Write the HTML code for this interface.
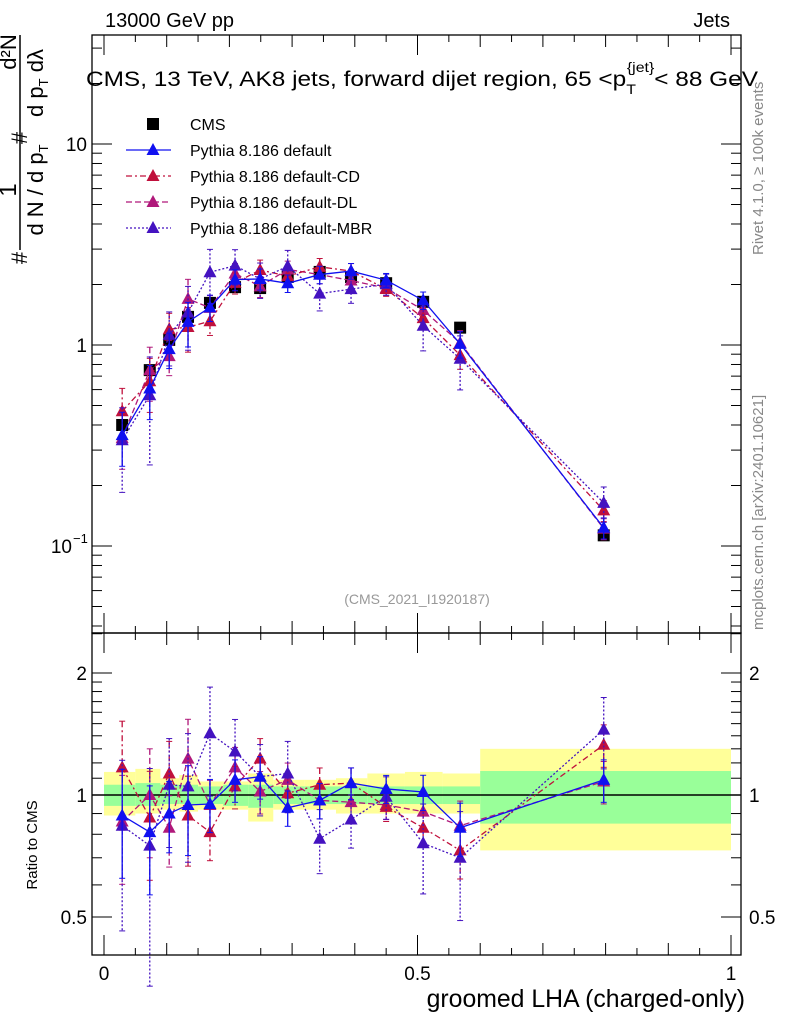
<!DOCTYPE html>
<html><head><meta charset="utf-8"><style>
body{margin:0;background:#fff;}
svg{display:block;font-family:"Liberation Sans",sans-serif;}
</style></head><body>
<svg id="c" width="786" height="1024" xmlns="http://www.w3.org/2000/svg">
<text x="105" y="27" font-size="20">13000 GeV pp</text>
<text x="730" y="27" font-size="20" text-anchor="end">Jets</text>
<text x="422" y="86" font-size="21.5" text-anchor="middle" textLength="672" lengthAdjust="spacingAndGlyphs">CMS, 13 TeV, AK8 jets, forward dijet region, 65 &lt;p<tspan font-size="14" dy="8">T</tspan><tspan font-size="14" dy="-22" dx="-8">{jet}</tspan><tspan dy="14">&lt; 88 GeV</tspan></text>
<text transform="translate(763,255) rotate(-90)" font-size="15" fill="#888">Rivet 4.1.0, ≥ 100k events</text>
<text transform="translate(763,630) rotate(-90)" font-size="15" fill="#888">mcplots.cern.ch [arXiv:2401.10621]</text>
<text x="417" y="604" font-size="14" fill="#999" text-anchor="middle">(CMS_2021_I1920187)</text>
<g font-size="22">
<line x1="20" y1="250" x2="20" y2="35" stroke="#000" stroke-width="1.5"/>
<text transform="translate(27,258) rotate(-90)" text-anchor="middle">#</text>
<text transform="translate(16,190) rotate(-90)" font-size="24" text-anchor="middle">1</text>
<text transform="translate(43,190) rotate(-90)" text-anchor="middle">d N / d p<tspan font-size="13" dy="5">T</tspan></text>
<text transform="translate(27,138) rotate(-90)" text-anchor="middle">#</text>
<text transform="translate(16,52) rotate(-90)" text-anchor="middle">d²N</text>
<text transform="translate(43,83) rotate(-90)" text-anchor="middle">d p<tspan font-size="13" dy="5">T</tspan><tspan dy="-5"> dλ</tspan></text>
</g>
<text transform="translate(37,845) rotate(-90)" font-size="15" text-anchor="middle">Ratio to CMS</text>
<text x="745" y="1007" font-size="24.8" text-anchor="end">groomed LHA (charged-only)</text>
<g id="bands"></g><g id="axes"></g><g id="marks"></g><g id="legend"></g>
</svg>
<script>
const xs=[0.029,0.073,0.104,0.134,0.169,0.209,0.249,0.293,0.344,0.394,0.45,0.509,0.568,0.797];
const cms=[0.40,0.75,1.06,1.38,1.62,1.94,1.92,2.18,2.31,2.18,2.03,1.64,1.22,0.113];
const rDefault=[0.89,0.81,0.90,0.945,0.95,1.09,1.11,0.93,0.97,1.07,1.035,1.017,0.83,1.09];
const rCD=[1.17,0.88,1.13,0.89,0.81,1.05,1.23,1.01,1.06,1.07,0.935,0.83,0.73,1.33];
const rDL=[0.86,1.0,0.83,1.23,0.945,1.17,1.02,1.09,0.97,0.96,0.945,0.91,0.84,1.08];
const rMBR=[0.84,0.75,1.06,1.05,1.42,1.28,1.11,1.13,0.78,0.87,0.99,0.76,0.70,1.45];
const errMC=[0.3,0.3,0.2,0.25,0.15,0.12,0.12,0.1,0.1,0.09,0.08,0.1,0.15,0.12];
const errMBR=[0.45,0.55,0.3,0.35,0.3,0.2,0.2,0.2,0.18,0.15,0.12,0.25,0.3,0.2];
const binEdges=[0,0.05,0.09,0.12,0.15,0.19,0.23,0.27,0.32,0.37,0.42,0.48,0.54,0.6,1.0];
const greenHi=[1.06,1.07,1.06,1.06,1.05,1.06,1.06,1.05,1.05,1.05,1.05,1.05,1.05,1.146];
const greenLo=[0.94,0.94,0.95,0.95,0.95,0.94,0.93,0.95,0.95,0.95,0.95,0.95,0.95,0.85];
const yelHi=[1.14,1.16,1.1,1.12,1.08,1.08,1.13,1.09,1.09,1.1,1.13,1.14,1.13,1.30];
const yelLo=[0.89,0.9,0.92,0.91,0.92,0.92,0.86,0.92,0.92,0.9,0.9,0.9,0.9,0.73];
const NS="http://www.w3.org/2000/svg";
const L=92,R=741,T=35,M=633,B=955;
const X=v=>104+v*627;
const Y=v=>345-201*Math.log10(v);
const YR=v=>795-122*Math.log2(v);
function el(p,t,a){const e=document.createElementNS(NS,t);for(const k in a)e.setAttribute(k,a[k]);document.getElementById(p).appendChild(e);return e;}
for(let i=0;i<greenHi.length;i++){
 const x1=X(binEdges[i]),x2=X(binEdges[i+1]);
 const y=el('bands','rect',{x:x1,y:YR(yelHi[i]),width:x2-x1,height:YR(yelLo[i])-YR(yelHi[i]),fill:'#ffff99'});
 
 
 const g=el('bands','rect',{x:x1,y:YR(greenHi[i]),width:x2-x1,height:YR(greenLo[i])-YR(greenHi[i]),fill:'#99ff99'});
 
 
}
el('bands','line',{x1:L,x2:R,y1:YR(1),y2:YR(1),stroke:'#000','stroke-width':1.5});
el('axes','rect',{x:L,y:T,width:R-L,height:M-T,fill:'none',stroke:'#000','stroke-width':1.3});
el('axes','rect',{x:L,y:M,width:R-L,height:B-M,fill:'none',stroke:'#000','stroke-width':1.3});
for(let d=-2;d<=1;d++)for(let m=1;m<10;m++){const v=m*Math.pow(10,d);const y=Y(v);if(y<T||y>M)continue;const len=m==1?20:10;
 el('axes','line',{x1:L,x2:L+len,y1:y,y2:y,stroke:'#000'});el('axes','line',{x1:R,x2:R-len,y1:y,y2:y,stroke:'#000'});}
[[10,'10'],[1,'1']].forEach(([v,t])=>{const e=el('axes','text',{x:L-5,y:Y(v)+7,'font-size':19,'text-anchor':'end'});e.textContent=t;});
{const e=el('axes','text',{x:L-20,y:Y(0.1)+7,'font-size':19,'text-anchor':'end'});e.textContent='10';const s=el('axes','text',{x:L-19,y:Y(0.1)-3,'font-size':13});s.textContent='−1';}
[0.4,0.5,0.6,0.7,0.8,0.9,1,1.1,1.2,1.3,1.4,1.5,1.6,1.7,1.8,1.9,2,2.5].forEach(v=>{const y=YR(v);if(y<M||y>B)return;const len=(v==0.5||v==1||v==2)?20:10;
 el('axes','line',{x1:L,x2:L+len,y1:y,y2:y,stroke:'#000'});el('axes','line',{x1:R,x2:R-len,y1:y,y2:y,stroke:'#000'});});
[[2,'2'],[1,'1'],[0.5,'0.5']].forEach(([v,t])=>{let e=el('axes','text',{x:L-5,y:YR(v)+7,'font-size':19,'text-anchor':'end'});e.textContent=t;
 e=el('axes','text',{x:R+8,y:YR(v)+7,'font-size':19});e.textContent=t;});
for(let i=0;i<=20;i++){const v=i*0.05;const x=X(v);const len=i%10==0?20:(i%2==0?12:7);
 [[T,1],[M,1],[M,-1],[B,-1]].forEach(([y0,s])=>el('axes','line',{x1:x,x2:x,y1:y0,y2:y0+s*len,stroke:'#000'}));}
[[0,'0'],[0.5,'0.5'],[1,'1']].forEach(([v,t])=>{const e=el('axes','text',{x:X(v),y:980,'font-size':19,'text-anchor':'middle'});e.textContent=t;});
function tri(p,x,y,c,n){const e=el('marks','path',{d:`M${x},${y-7}L${x+6.5},${y+5}L${x-6.5},${y+5}Z`,fill:c});
 
 }
function series(ratio,err,color,dash,name){
 const mv=cms.map((c,i)=>c*ratio[i]);
 const up=el('marks','polyline',{points:xs.map((x,i)=>X(x)+','+Y(mv[i])).join(' '),fill:'none',stroke:color,'stroke-width':1.3,'stroke-dasharray':dash});
 
 
 const lo=el('marks','polyline',{points:xs.map((x,i)=>X(x)+','+YR(ratio[i])).join(' '),fill:'none',stroke:color,'stroke-width':1.3,'stroke-dasharray':dash});
 
 
 xs.forEach((x,i)=>{const px=X(x);
  [[Y(mv[i]*(1+err[i])),Y(mv[i]*(1-err[i]))],[YR(ratio[i]*(1+err[i])),YR(ratio[i]*(1-err[i]))]].forEach(([a,b])=>{
   el('marks','line',{x1:px,x2:px,y1:a,y2:b,stroke:color,'stroke-width':1.3,'stroke-dasharray':dash});
   el('marks','line',{x1:px-3,x2:px+3,y1:a,y2:a,stroke:color});el('marks','line',{x1:px-3,x2:px+3,y1:b,y2:b,stroke:color});});
  tri('marks',px,Y(mv[i]),color,name+'-point');tri('marks',px,YR(ratio[i]),color,name+'-ratio-point');});
}
xs.forEach((x,i)=>{const e=el('marks','rect',{x:X(x)-6,y:Y(cms[i])-6,width:12,height:12,fill:'#000'});
 
 });
series(rDL,errMC,'#b0187a','6,3','pythia-dl');
series(rCD,errMC,'#c0103c','6,3,2,3','pythia-cd');
series(rMBR,errMBR,'#4412c0','2,2','pythia-mbr');
series(rDefault,errMC,'#1010f0','','pythia-default');
const labels=['CMS','Pythia 8.186 default','Pythia 8.186 default-CD','Pythia 8.186 default-DL','Pythia 8.186 default-MBR'];
const lcol=['#000','#1010f0','#c0103c','#b0187a','#4412c0'];
const ldash=['','','6,3,2,3','6,3','2,2'];
labels.forEach((t,i)=>{const y=124+i*26;
 if(i==0){const r=el('legend','rect',{x:147,y:y-6,width:12,height:12,fill:'#000'});}
 else{el('legend','line',{x1:126,x2:171,y1:y,y2:y,stroke:lcol[i],'stroke-width':1.3,'stroke-dasharray':ldash[i]});
  const p=el('legend','path',{d:`M153,${y-7}L159.5,${y+5}L146.5,${y+5}Z`,fill:lcol[i]});}
 const e=el('legend','text',{x:190,y:y+6,'font-size':16});e.textContent=t;
 
 });
</script>
</body></html>
